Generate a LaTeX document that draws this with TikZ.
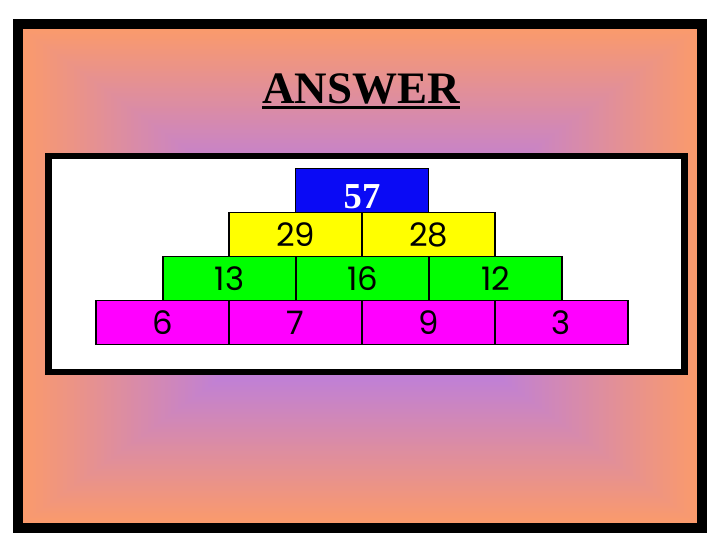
\documentclass[tikz,border=0pt]{standalone}
\usepackage{fontspec}
\setmainfont{Liberation Serif}
\newfontfamily\handfont{Poppins}
\usetikzlibrary{positioning}
\definecolor{peach}{HTML}{FA9A6C}
\definecolor{lilac}{HTML}{BE7FD9}
\definecolor{topblue}{HTML}{0A0AF5}
\definecolor{rowyellow}{HTML}{FFFF00}
\definecolor{rowgreen}{HTML}{00FF00}
\definecolor{rowpink}{HTML}{FF00FF}

\begin{document}
\begin{tikzpicture}[x=0.025cm, y=-0.025cm,
  brick/.style={draw=black, line width=1.2pt, minimum width=3.325cm,
    minimum height=1.1cm, inner sep=0pt, font=\handfont\fontsize{23}{23}\selectfont},
  title_style/.style={font=\bfseries\fontsize{32}{32}\selectfont, inner sep=0pt}]
  \useasboundingbox[fill=white] (0,0) rectangle (720,540);
  % frame and shaded background
  \fill[black] (13,19) rectangle (707,533);
  \foreach \k in {0,...,65}{
    \pgfmathsetmacro\t{1-\k/100}
    \pgfmathsetmacro\p{min(100,\k/0.6)}
    \fill[lilac!\p!peach] ({360-337*\t},{276-247*\t}) rectangle ({360+337*\t},{276+247*\t});
  }
  \node[title_style, anchor=base] (title) at (361,103) {ANSWER};
  \draw[line width=2pt] ([yshift=-3pt]title.base west) -- ([yshift=-3pt]title.base east);
  % white board
  \fill[black] (45,153) rectangle (688,375);
  \fill[white] (52,159) rectangle (681,369);
  % pyramid
  \node[brick, fill=topblue, text=white, font=\bfseries\fontsize{26}{26}\selectfont,
    text height=0.93cm] (top) at (362,190.5) {57};
  \node[brick, fill=rowyellow] (y1) at (295.5,234.5) {29};
  \node[brick, fill=rowyellow] (y2) at (428.5,234.5) {28};
  \node[brick, fill=rowgreen] (g1) at (229.5,278.5) {13};
  \node[brick, fill=rowgreen] (g2) at (362.5,278.5) {16};
  \node[brick, fill=rowgreen] (g3) at (495.5,278.5) {12};
  \node[brick, fill=rowpink] (m1) at (162.5,322.5) {6};
  \node[brick, fill=rowpink] (m2) at (295.5,322.5) {7};
  \node[brick, fill=rowpink] (m3) at (428.5,322.5) {9};
  \node[brick, fill=rowpink] (m4) at (561.5,322.5) {3};
\end{tikzpicture}
\end{document}
